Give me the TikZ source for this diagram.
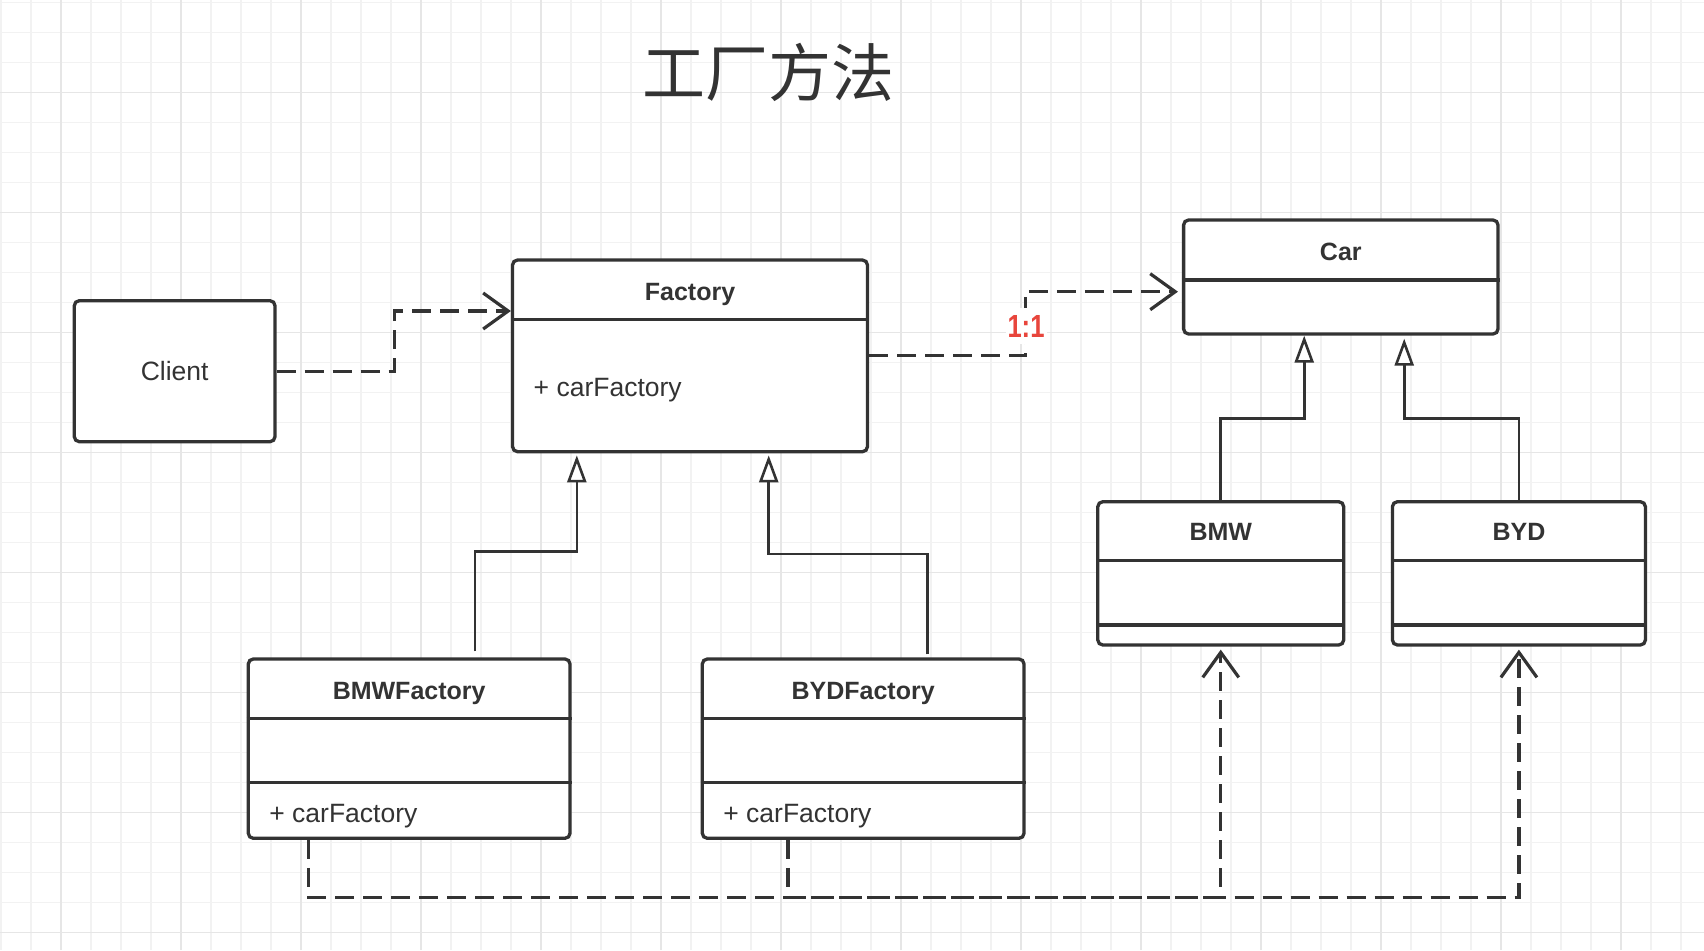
\documentclass[tikz,border=0pt]{standalone}
\usepackage{fontspec}
\setmainfont{Liberation Sans}
\newfontfamily\cjk{Noto Sans CJK SC}
\usetikzlibrary{arrows.meta}
\definecolor{ink}{HTML}{333333}
\definecolor{gridminor}{HTML}{F2F2F2}
\definecolor{gridmajor}{HTML}{E6E6E6}
\definecolor{redlbl}{HTML}{E8453C}
\begin{document}
\begin{tikzpicture}[x=1pt,y=-1pt,
 box/.style={draw=ink, line width=3.3pt, rounded corners=5pt, fill=white, inner sep=0pt},
 divider/.style={draw=ink, line width=3.3pt},
 hdr/.style={font=\bfseries\fontsize{25}{30}\selectfont, text=ink, anchor=base, inner sep=0pt},
 plain/.style={font=\fontsize{26.5}{30}\selectfont, text=ink, anchor=base, inner sep=0pt},
 attr/.style={font=\fontsize{26.5}{30}\selectfont, text=ink, anchor=base west, inner sep=0pt},
 dep/.style={draw=ink, line width=3.2pt, dash pattern=on 19pt off 9pt, -{Straight Barb[length=25pt,width=36pt]}},
 gen/.style={draw=ink, line width=2.6pt, -{Triangle[length=27pt,width=19pt,fill=white]}},
 minorline/.style={draw=gridminor, line width=1.2pt},
 majorline/.style={draw=gridmajor, line width=1.5pt},
 ]
\useasboundingbox (0,0) rectangle (1704,950);
\fill[white] (0,0) rectangle (1704,950);
% grid
\foreach \k in {0,...,56} \draw[minorline] ({1+30*\k},0) -- ({1+30*\k},950);
\foreach \k in {0,...,31} \draw[minorline] (0,{2.3+30*\k}) -- (1704,{2.3+30*\k});
\foreach \k in {0,...,13} \draw[majorline] ({61+120*\k},0) -- ({61+120*\k},950);
\foreach \k in {0,...,7} \draw[majorline] (0,{92.3+120*\k}) -- (1704,{92.3+120*\k});

% title
\node[text=ink, font=\cjk\fontsize{63}{70}\selectfont] (title) at (768,72) {工厂方法};

% client
\node[box, minimum width=200.7pt, minimum height=141pt] (client) at (174.65,371.2) {};
\node[plain] (clientT) at (174.65,380.7) {Client};

% factory
\node[box, minimum width=354.9pt, minimum height=191.7pt] (factory) at (690,355.85) {};
\node[hdr] (factoryT) at (690,300) {Factory};
\draw[divider] (factory.west |- 0,319.3) -- (factory.east |- 0,319.3);
\node[attr] (factoryA) at (533.5,396) {+ carFactory};

% car
\node[box, minimum width=314.4pt, minimum height=114pt] (car) at (1340.8,277) {};
\node[hdr] (carT) at (1340.8,260) {Car};
\draw[divider] (car.west |- 0,280) -- (car.east |- 0,280);

% bmw
\node[box, minimum width=245.9pt, minimum height=143.3pt] (bmw) at (1220.75,573.35) {};
\node[hdr] (bmwT) at (1220.75,540.7) {BMW};
\draw[divider] (bmw.west |- 0,560.7) -- (bmw.east |- 0,560.7);
\draw[divider] (bmw.west |- 0,625) -- (bmw.east |- 0,625);

% byd
\node[box, minimum width=253pt, minimum height=143.3pt] (byd) at (1518.9,573.35) {};
\node[hdr] (bydT) at (1518.9,540.7) {BYD};
\draw[divider] (byd.west |- 0,560.7) -- (byd.east |- 0,560.7);
\draw[divider] (byd.west |- 0,625) -- (byd.east |- 0,625);

% bmw factory
\node[box, minimum width=321.7pt, minimum height=179.3pt] (bmwf) at (409.15,748.65) {};
\node[hdr] (bmwfT) at (409.15,699) {BMWFactory};
\draw[divider] (bmwf.west |- 0,718.3) -- (bmwf.east |- 0,718.3);
\draw[divider] (bmwf.west |- 0,782.7) -- (bmwf.east |- 0,782.7);
\node[attr] (bmwfA) at (269.2,822.7) {+ carFactory};

% byd factory
\node[box, minimum width=321.7pt, minimum height=179.3pt] (bydf) at (863.15,748.65) {};
\node[hdr] (bydfT) at (863.15,699) {BYDFactory};
\draw[divider] (bydf.west |- 0,718.3) -- (bydf.east |- 0,718.3);
\draw[divider] (bydf.west |- 0,782.7) -- (bydf.east |- 0,782.7);
\node[attr] (bydfA) at (723.2,822.7) {+ carFactory};

% connectors
\draw[dep] (client.east) -- (394.6,371.2) |- (factory.west |- 0,311);
\draw[dep, shorten >=4pt] (factory.east) -- (1025.4,355.85) |- (car.west |- 0,291.7);
\node[fill=white, inner xsep=2pt, inner ysep=7pt, anchor=base, text=redlbl,
      font=\bfseries\fontsize{32}{36}\selectfont] (ratio) at (1026,337.3) {\scalebox{0.8}[1]{1:1}};

\draw[gen, shorten <=6pt, shorten >=2pt] (474.8,0 |- bmwf.north) -- (474.8,551.7) -| (576.8,0 |- factory.south);
\draw[gen, shorten <=3pt, shorten >=2pt] (927.2,0 |- bydf.north) -- (927.2,554) -| (768.7,0 |- factory.south);
\draw[gen] (bmw.north) |- (1304.2,418.3) -- (1304.2,0 |- car.south);
\draw[gen, shorten >=3pt] (byd.north) |- (1404.2,418.3) -- (1404.2,0 |- car.south);

\draw[dep, shorten >=3pt] (308.5,0 |- bmwf.south) -- (308.5,897.3) -| (bmw.south);
\draw[dep, shorten >=3pt] (788,0 |- bydf.south) -- (788,897.3) -| (byd.south);
\end{tikzpicture}
\end{document}
